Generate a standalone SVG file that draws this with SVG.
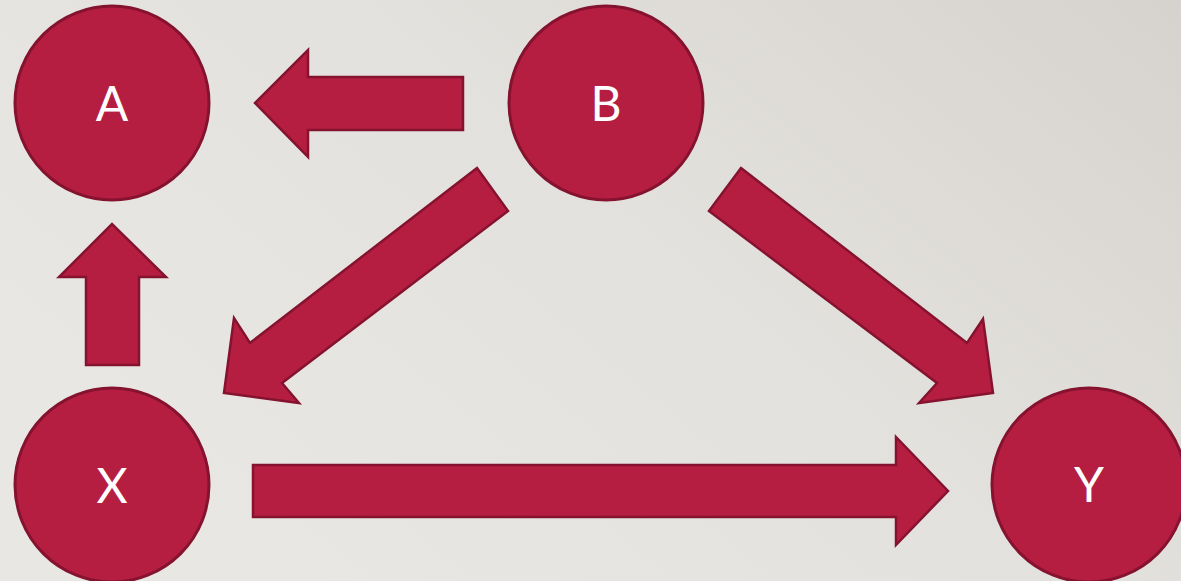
<svg xmlns="http://www.w3.org/2000/svg" width="1181" height="581" viewBox="0 0 1181 581">
  <defs>
    <linearGradient id="bg" x1="0" y1="0.6" x2="1" y2="0">
      <stop offset="0" stop-color="#E9E7E3"/>
      <stop offset="0.5" stop-color="#E3E1DD"/>
      <stop offset="1" stop-color="#D6D3CE"/>
    </linearGradient>
    <style>
      .node { fill: #B61E41; stroke: #85132F; stroke-width: 3; }
      .arrow { fill: #B61E41; stroke: #85132F; stroke-width: 2.5; stroke-linejoin: miter; }
      .label { fill: #FFFFFF; font-family: Lato, "Open Sans", "Liberation Sans", sans-serif; font-size: 48px; text-anchor: middle; }
    </style>
  </defs>
  <rect x="0" y="0" width="1181" height="581" fill="url(#bg)"/>

  <g id="connectors">
    <polygon id="edge-B-A" class="arrow" points="463,77 308,77 308,50 255,103 308,157 308,130 463,130"/>
    <polygon id="edge-B-X" class="arrow" points="477,168 250,343 234,318 224,393 299,403 282,383 508,211"/>
    <polygon id="edge-B-Y" class="arrow" points="741,168 967,343 983,319 993,393 919,403 937,383 709,211"/>
    <polygon id="edge-X-A" class="arrow" points="86,365 86,277 59,277 112,224 166,277 139,277 139,365"/>
    <polygon id="edge-X-Y" class="arrow" points="253,465 896,465 896,437 948,491 896,545 896,517 253,517"/>
  </g>

  <g id="node-A">
    <circle class="node" cx="112" cy="103" r="97"/>
    <text class="label" x="112" y="121">A</text>
  </g>
  <g id="node-B">
    <circle class="node" cx="606" cy="103" r="97"/>
    <text class="label" x="606" y="121">B</text>
  </g>
  <g id="node-X">
    <circle class="node" cx="112" cy="485" r="97"/>
    <text class="label" x="112" y="503">X</text>
  </g>
  <g id="node-Y">
    <circle class="node" cx="1089" cy="485" r="97"/>
    <text class="label" x="1089" y="502">Y</text>
  </g>
</svg>
